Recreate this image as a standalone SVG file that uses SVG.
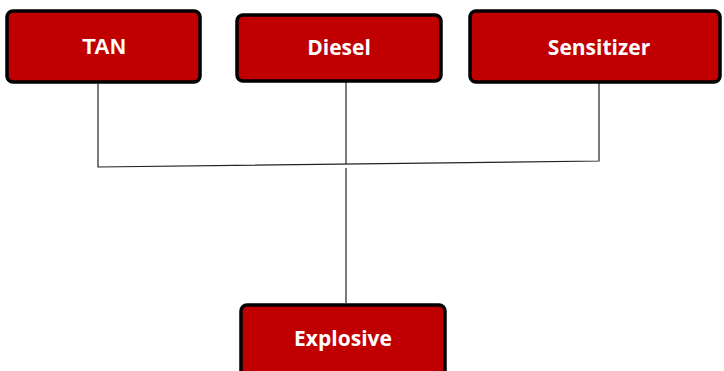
<svg xmlns="http://www.w3.org/2000/svg" width="724" height="371" viewBox="0 0 724 371">
<style>
.box{fill:#c00000;stroke:#000;stroke-width:3.5}
.t{fill:#fff;font-family:"Open Sans","Liberation Sans",sans-serif;font-weight:bold;font-size:21px;text-anchor:middle}
.ta{fill:#fff;font-family:"Liberation Sans",Arial,sans-serif;font-weight:bold;font-size:22px;text-anchor:middle}
.ln{fill:none;stroke:#222;stroke-width:1.2}
</style>
<rect width="724" height="371" fill="#fff"/>
<g id="connectors">
<polyline class="ln" points="98,84 98,167 599,161 599,83"/>
<line class="ln" x1="346" y1="82" x2="346" y2="164"/>
<line class="ln" x1="346" y1="168" x2="346" y2="303"/>
</g>
<g id="tan"><rect class="box" x="7" y="11" width="193" height="71" rx="6"/><text class="ta" x="104" y="54">TAN</text></g>
<g id="diesel"><rect class="box" x="237" y="15" width="204" height="66" rx="6"/><text class="t" x="339" y="55">Diesel</text></g>
<g id="sensitizer"><rect class="box" x="470" y="11" width="250" height="71" rx="6"/><text class="t" x="599" y="55">Sensitizer</text></g>
<g id="explosive"><rect class="box" x="241" y="305" width="204" height="72" rx="6"/><text class="t" x="343" y="346">Explosive</text></g>
</svg>
